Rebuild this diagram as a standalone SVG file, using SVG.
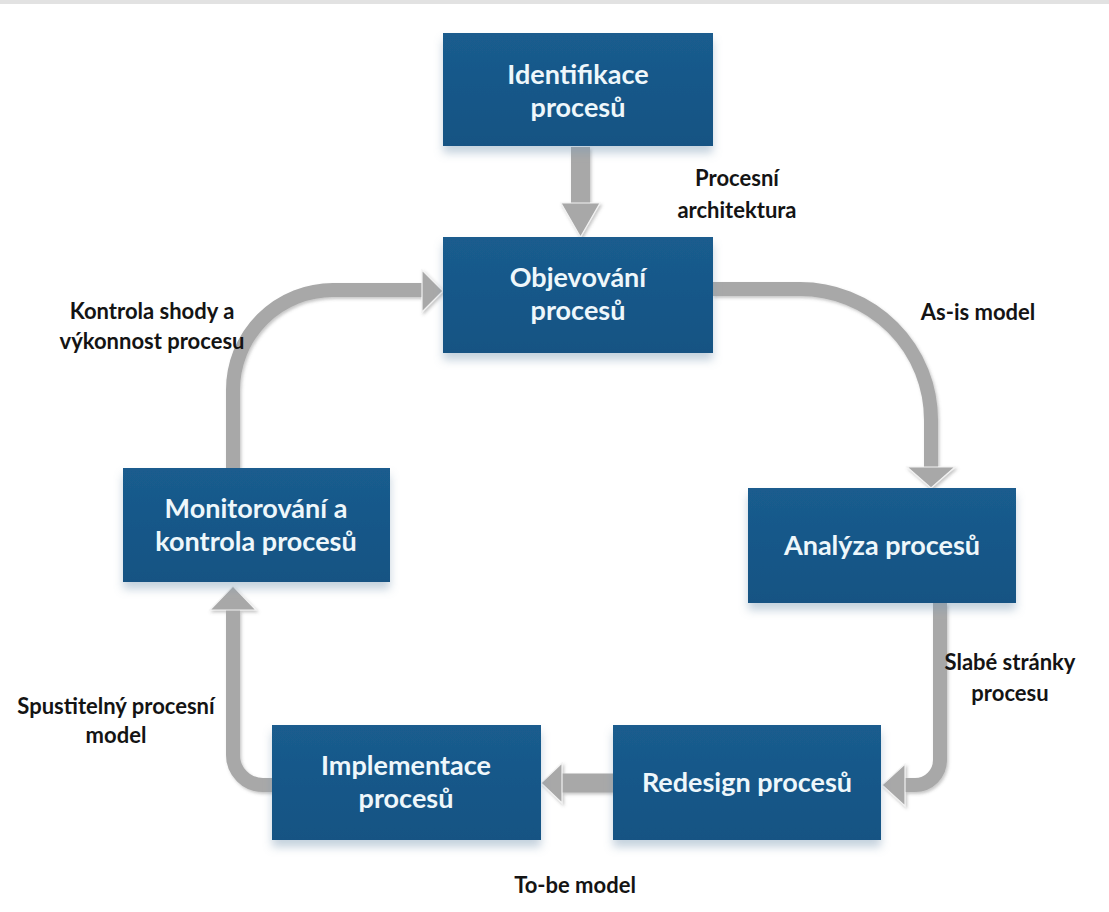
<svg xmlns="http://www.w3.org/2000/svg" width="1109" height="912" viewBox="0 0 1109 912">
  <defs>
    <linearGradient id="boxFill" x1="0" y1="0" x2="0" y2="1">
      <stop offset="0" stop-color="#1a5c8e"/>
      <stop offset="1" stop-color="#155383"/>
    </linearGradient>
    <filter id="boxShadow" x="-10%" y="-10%" width="120%" height="135%">
      <feDropShadow dx="0" dy="7" stdDeviation="5" flood-color="#7d9ab3" flood-opacity="0.45"/>
    </filter>
    <filter id="arrowShadow" x="-20%" y="-20%" width="140%" height="140%">
      <feDropShadow dx="1.5" dy="2" stdDeviation="1.5" flood-color="#606060" flood-opacity="0.35"/>
    </filter>
    <style>
      .box { fill: url(#boxFill); filter: url(#boxShadow); }
      .boxText { font-family: Lato, "Open Sans", "DejaVu Sans", sans-serif; font-weight: bold; font-size: 27px; fill: #eef7fb; text-anchor: middle; }
      .label { font-family: Lato, "Open Sans", "DejaVu Sans", sans-serif; font-weight: bold; font-size: 22px; fill: #141414; text-anchor: middle; }
      .shaft { fill: none; stroke: #a8a8a8; stroke-width: 14; }
      .shaftWide { fill: none; stroke: #a8a8a8; stroke-width: 19; }
      .head { fill: #a8a8a8; stroke: #f2f2f2; stroke-width: 1.2; }
      .arrow { filter: url(#arrowShadow); }
    </style>
  </defs>

  <rect x="0" y="0" width="1109" height="912" fill="#ffffff"/>
  <rect x="0" y="0" width="1109" height="4" fill="#e2e2e2"/>

  <!-- connectors -->
  <g id="connectors">
    <!-- Identifikace -> Objevovani -->
    <g class="arrow">
      <path class="shaftWide" d="M580.5 147 V204"/>
      <polygon class="head" points="561,203 600,203 580.5,237"/>
    </g>
    <!-- Objevovani -> Analyza -->
    <g class="arrow">
      <path class="shaft" d="M712 289 H800 A131 131 0 0 1 931 420 V468"/>
      <polygon class="head" points="907,467 955,467 931,488"/>
    </g>
    <!-- Analyza -> Redesign -->
    <g class="arrow">
      <path class="shaft" d="M940 603 V760 A25 25 0 0 1 915 785 H904"/>
      <polygon class="head" points="905,764 905,806 882,785"/>
    </g>
    <!-- Redesign -> Implementace -->
    <g class="arrow">
      <path class="shaftWide" d="M613 783 H560"/>
      <polygon class="head" points="562,763 562,803 541,783"/>
    </g>
    <!-- Implementace -> Monitorovani -->
    <g class="arrow">
      <path class="shaft" d="M272 785 H263 A30 30 0 0 1 233 755 V608"/>
      <polygon class="head" points="210,610 256,610 233,586"/>
    </g>
    <!-- Monitorovani -> Objevovani -->
    <g class="arrow">
      <path class="shaft" d="M233 468 V390 A100 100 0 0 1 333 290 H424"/>
      <polygon class="head" points="422,270 422,312 443,291"/>
    </g>
  </g>

  <!-- nodes -->
  <g id="identifikace">
    <rect class="box" x="443" y="33" width="270" height="113"/>
    <text class="boxText" x="578" y="84">Identifikace</text>
    <text class="boxText" x="578" y="117">procesů</text>
  </g>
  <g id="objevovani">
    <rect class="box" x="443" y="237" width="270" height="116"/>
    <text class="boxText" x="578" y="287">Objevování</text>
    <text class="boxText" x="578" y="320">procesů</text>
  </g>
  <g id="analyza">
    <rect class="box" x="748" y="488" width="268" height="115"/>
    <text class="boxText" x="882" y="555">Analýza procesů</text>
  </g>
  <g id="redesign">
    <rect class="box" x="613" y="725" width="268" height="115"/>
    <text class="boxText" x="747" y="792">Redesign procesů</text>
  </g>
  <g id="implementace">
    <rect class="box" x="272" y="725" width="269" height="115"/>
    <text class="boxText" x="406" y="775">Implementace</text>
    <text class="boxText" x="406" y="808">procesů</text>
  </g>
  <g id="monitorovani">
    <rect class="box" x="123" y="468" width="267" height="114"/>
    <text class="boxText" x="256" y="518">Monitorování a</text>
    <text class="boxText" x="256" y="551">kontrola procesů</text>
  </g>

  <!-- connector labels -->
  <g id="labels">
    <text class="label" x="737" y="186">Procesní</text>
    <text class="label" x="737" y="218">architektura</text>
    <text class="label" x="978" y="320">As-is model</text>
    <text class="label" x="152" y="319">Kontrola shody a</text>
    <text class="label" x="152" y="349">výkonnost procesu</text>
    <text class="label" x="1010" y="670">Slabé stránky</text>
    <text class="label" x="1010" y="701">procesu</text>
    <text class="label" x="116" y="714">Spustitelný procesní</text>
    <text class="label" x="116" y="743">model</text>
    <text class="label" x="575" y="893">To-be model</text>
  </g>
</svg>
